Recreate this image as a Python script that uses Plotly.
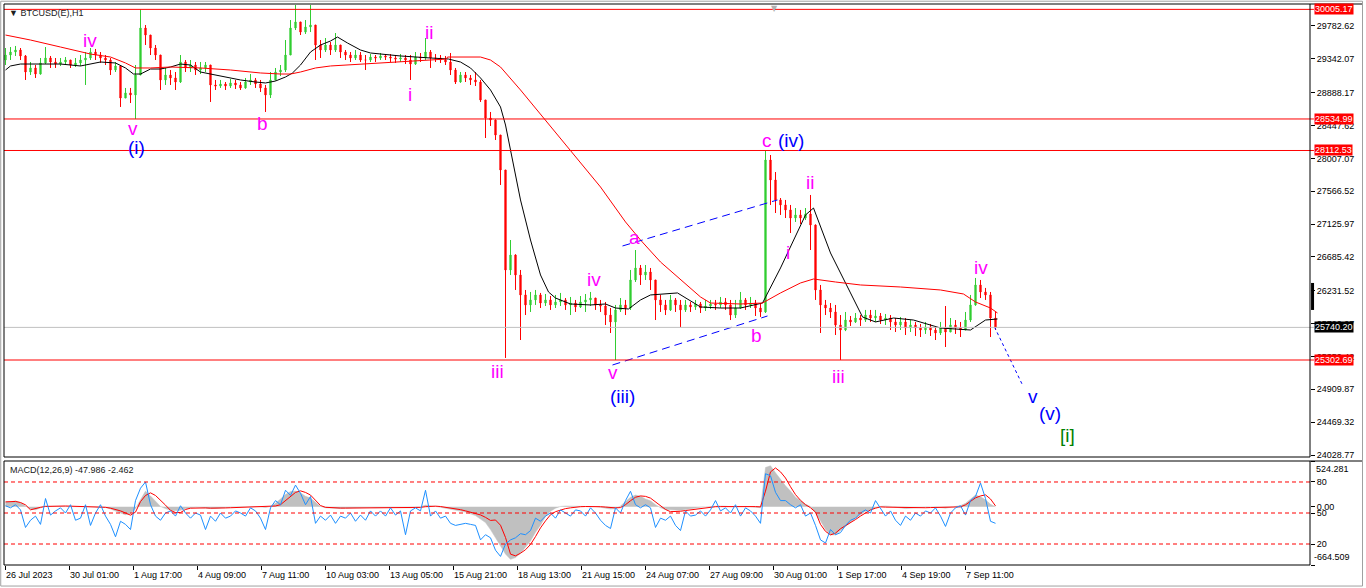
import plotly.graph_objects as go

# ---------------- DATA ----------------
# hourly bar index (sampled every 5 bars)
bar_step = 5
n_bars = 199
hours = [i * bar_step for i in range(n_bars)]
first_open = 29326

close = [
    29393, 29433, 29460, 29380, 29165, 29219, 29138, 29286, 29353, 29299,
    29272, 29299, 29326, 29259, 29286, 29326, 29353, 29433, 29393, 29353,
    29326, 29192, 29246, 28816, 28884, 28857, 29125, 29755, 29661, 29487,
    29393, 29058, 29125, 29085, 29031, 29299, 29219, 29259, 29192, 29219,
    29259, 28991, 28977, 29004, 28977, 29018, 28991, 28951, 29031, 29058,
    29004, 28951, 28857, 29058, 29165, 29192, 29393, 29755, 29836, 29701,
    29769, 29795, 29527, 29460, 29527, 29460, 29527, 29433, 29393, 29353,
    29393, 29326, 29326, 29366, 29353, 29380, 29366, 29353, 29339, 29353,
    29326, 29272, 29366, 29353, 29433, 29353, 29353, 29326, 29299, 29192,
    29031, 29125, 29085, 29058, 29031, 28790, 28548, 28521, 28320, 27851,
    26510, 26711, 26443, 26175, 26041, 26108, 26175, 26067, 26108, 26041,
    26081, 26108, 26041, 26067, 26014, 26081, 26108, 26134, 26041, 26027,
    25906, 25813, 25974, 26041, 26000, 26376, 26537, 26443, 26483, 26376,
    26108, 26041, 25974, 26108, 26041, 25974, 26041, 26014, 26054, 26000,
    26027, 26054, 26041, 26081, 26041, 25906, 26000, 26108, 26041, 26067,
    26000, 25947, 27985, 27717, 27449, 27382, 27315, 27207, 27248, 27207,
    27261, 27113, 26242, 26041, 26000, 25947, 25772, 25705, 25839, 25813,
    25866, 25839, 25906, 25866, 25893, 25839, 25866, 25813, 25772, 25813,
    25732, 25772, 25732, 25705, 25745, 25705, 25665, 25732, 25678, 25772,
    25732, 25705, 25839, 26041, 26309, 26215, 26175, 25866, 25740,
]
high = [
    29487, 29500, 29514, 29487, 29393, 29299, 29259, 29353, 29500, 29380,
    29353, 29353, 29366, 29326, 29353, 29393, 29433, 29487, 29474, 29433,
    29393, 29353, 29299, 29259, 28951, 28951, 29259, 30005, 29795, 29661,
    29527, 29393, 29219, 29192, 29165, 29393, 29326, 29326, 29299, 29299,
    29299, 29259, 29058, 29058, 29031, 29071, 29058, 29031, 29085, 29138,
    29085, 29058, 28991, 29165, 29219, 29259, 29594, 29862, 30064, 29836,
    29862, 30064, 29795, 29594, 29621, 29567, 29688, 29527, 29460, 29433,
    29460, 29433, 29393, 29406, 29393, 29420, 29406, 29406, 29393, 29406,
    29393, 29393, 29433, 29420, 29621, 29460, 29406, 29393, 29380, 29420,
    29219, 29165, 29165, 29125, 29165, 29058, 28790, 28629, 28530, 28320,
    27851, 26912, 26720, 26510, 26242, 26215, 26242, 26202, 26188, 26161,
    26175, 26202, 26134, 26148, 26108, 26161, 26188, 26215, 26134, 26108,
    26081, 26000, 26041, 26134, 26108, 26510, 26778, 26577, 26577, 26537,
    26376, 26175, 26108, 26175, 26134, 26108, 26108, 26081, 26108, 26081,
    26108, 26108, 26108, 26148, 26134, 26108, 26108, 26215, 26134, 26148,
    26108, 26067, 28112, 28052, 27824, 27475, 27449, 27382, 27341, 27315,
    27341, 27516, 27120, 26309, 26108, 26067, 26041, 25906, 25947, 25893,
    25933, 25906, 25974, 25974, 25974, 25933, 25920, 25906, 25866, 25880,
    25866, 25839, 25813, 25786, 25813, 25786, 25759, 25813, 26027, 25866,
    25839, 25813, 25947, 26175, 26403, 26376, 26269, 26215, 25947,
]
low = [
    29259, 29326, 29380, 29326, 29058, 29125, 29085, 29130, 29272, 29219,
    29219, 29246, 29259, 29219, 29232, 29246, 28991, 29326, 29326, 29286,
    29259, 29125, 29165, 28696, 28816, 28749, 28535, 29125, 29527, 29393,
    29326, 28924, 28991, 28991, 28924, 29018, 29165, 29165, 29125, 29138,
    29165, 28763, 28924, 28951, 28924, 28951, 28937, 28924, 28940, 28991,
    28951, 28897, 28629, 28816, 29050, 29111, 29165, 29393, 29728, 29661,
    29675, 29701, 29326, 29353, 29433, 29393, 29433, 29353, 29326, 29299,
    29326, 29299, 29192, 29299, 29299, 29326, 29326, 29299, 29286, 29299,
    29272, 29058, 29259, 29299, 29326, 29219, 29299, 29286, 29259, 29125,
    29004, 29020, 29031, 28991, 28977, 28763, 28280, 28441, 28253, 27650,
    25330, 26443, 26242, 25571, 25906, 25947, 26041, 26000, 26027, 25974,
    26000, 26027, 25974, 25906, 25947, 26000, 25947, 26027, 25974, 25947,
    25772, 25665, 25303, 25947, 25906, 25974, 26349, 26309, 26376, 26242,
    25839, 25947, 25906, 25960, 25947, 25745, 25947, 25947, 25974, 25933,
    25960, 25987, 25974, 26000, 25974, 25839, 25866, 25990, 25974, 26000,
    25893, 25880, 25933, 27382, 27274, 27248, 27207, 27006, 27154, 27127,
    27180, 26778, 26108, 25665, 25906, 25866, 25638, 25303, 25690, 25759,
    25799, 25759, 25813, 25813, 25813, 25786, 25772, 25705, 25678, 25705,
    25638, 25678, 25625, 25611, 25652, 25625, 25571, 25638, 25477, 25678,
    25652, 25611, 25705, 25813, 26030, 26134, 26108, 25611, 25705,
]

# moving averages (hour, price)
ma_fast_h = [0, 5, 15, 35, 55, 75, 95, 110, 120, 128, 135, 145, 155, 165, 175, 185, 195, 205,
             215, 225, 235, 250, 260, 270, 280, 287, 295, 305, 315, 325, 332, 342, 355, 365,
             395, 425, 443, 455, 465, 475, 485, 495, 500, 505, 515, 525, 535, 543, 550, 565,
             585, 600, 610, 623, 635, 645, 672, 695, 715, 735, 757, 775, 800, 808, 825, 845,
             857, 870, 888, 908, 935, 965, 980, 992]
ma_fast_p = [29192, 29246, 29272, 29272, 29272, 29246, 29299, 29286, 29219, 29138, 29138, 29205,
             29205, 29232, 29272, 29259, 29165, 29138, 29111, 29085, 29058, 29031, 29018, 29044,
             29098, 29152, 29259, 29433, 29527, 29581, 29634, 29554, 29460, 29420, 29380, 29353,
             29339, 29299, 29219, 29085, 28924, 28696, 28454, 28119, 27449, 26912, 26443, 26215,
             26134, 26054, 26041, 26054, 26000, 25987, 26108, 26175, 26202, 26014, 26000, 26000,
             26067, 26537, 27248, 27341, 26738, 26202, 25880, 25813, 25866, 25839, 25732, 25705,
             25839, 25853]
ma_slow_h = [0, 25, 55, 85, 105, 120, 130, 145, 165, 195, 225, 255, 275, 285, 295, 310, 325,
             355, 395, 435, 441, 442, 475, 485, 495, 515, 540, 565, 595, 620, 635, 655, 675,
             695, 705, 735, 757, 775, 795, 808, 830, 855, 895, 935, 958, 970, 985, 992]
ma_slow_p = [29661, 29594, 29500, 29406, 29366, 29286, 29219, 29219, 29232, 29219, 29192, 29152,
             29138, 29138, 29165, 29219, 29246, 29272, 29299, 29339, 29339, 29366, 29366, 29326,
             29232, 28924, 28521, 28119, 27623, 27154, 26912, 26617, 26376, 26148, 26067, 26054,
             26067, 26202, 26336, 26389, 26349, 26309, 26282, 26242, 26188, 26081, 26000, 25933]

# price levels
level_red = [30005.17, 28534.99, 28112.53, 25302.69]
level_current = 25740.20
price_ticks = [29782.62, 29342.07, 28888.17, 28447.62, 28007.07, 27566.52, 27125.97,
               26685.42, 26231.52, 25790.97, 25350.42, 24909.87, 24469.32, 24028.77]

# trend / projection lines (hour, price)
chan_up_h, chan_up_p = [617, 772], [26832, 27449]
chan_lo_h, chan_lo_p = [607, 762], [25236, 25893]
proj_h, proj_p = [989, 1017], [25745, 24968]

# wave labels
wave_text = ["iv", "v", "(i)", "b", "i", "ii", "iii", "iv", "v", "(iii)", "a", "b", "c",
             "(iv)", "i", "ii", "iii", "iv", "v", "(v)", "[i]"]
wave_h = [84, 127, 131, 257, 404, 423, 492, 588, 607, 617, 629, 751, 761,
          785, 782, 804, 833, 975, 1027, 1044, 1062]
wave_p = [29594, 28414, 28159, 28481, 28857, 29701, 25142, 26376, 25129, 24807, 26952, 25638, 28253,
          28240, 26738, 27677, 25075, 26550, 24807, 24592, 24297]
wave_col = ["m", "m", "b", "m", "m", "m", "m", "m", "m", "b", "m", "m", "m",
            "b", "m", "m", "m", "m", "b", "b", "g"]

# time axis labels (every 64 bars)
time_labels = ["26 Jul 2023", "30 Jul 01:00", "1 Aug 17:00", "4 Aug 09:00", "7 Aug 11:00",
               "10 Aug 03:00", "13 Aug 05:00", "15 Aug 21:00", "18 Aug 13:00", "21 Aug 15:00",
               "24 Aug 07:00", "27 Aug 09:00", "30 Aug 01:00", "1 Sep 17:00", "4 Sep 19:00",
               "7 Sep 11:00"]
label_every = 64

# MACD histogram, signal, and blue oscillator (same sampling as candles)
macd_hist = [
    57, 57, 69, 46, 11, -23, -34, -11, 11, 6,
    8, 5, 3, 0, -3, 2, 5, 0, -5, -2,
    -8, -23, -50, -70, -90, -80, -20, 80, 180, 125,
    60, 5, -20, -40, -45, -40, -20, -10, -5, -8,
    -15, -20, -18, -12, -8, -5, -3, 0, 2, 5,
    3, 0, -8, 5, 40, 90, 140, 175, 180, 160,
    120, 100, 50, 5, -10, -15, -18, -20, -15, -12,
    -15, -12, -10, -8, -10, -8, -5, -5, -8, -10,
    -15, -12, -5, 0, 20, 15, 5, -5, -15, -25,
    -40, -50, -60, -80, -100, -140, -180, -260, -350, -440,
    -540, -600, -580, -530, -460, -390, -290, -210, -110, -50,
    -15, 5, 10, 10, 8, 5, 8, 5, 2, -5,
    -15, -25, -20, 10, 60, 110, 135, 120, 90, 70,
    25, -10, -30, -35, -35, -40, -30, -20, -10, -5,
    0, 5, 8, 10, 8, 2, 5, 8, 5, 2,
    -5, -10, 450, 470, 390, 310, 240, 180, 110, 70,
    30, 5, -70, -160, -260, -320, -320, -270, -220, -180,
    -130, -90, -50, -35, -10, 5, 10, 5, -5, -15,
    -20, -15, -10, -8, -5, 0, -2, -5, -15, -5,
    5, 15, 40, 90, 135, 115, 80, 30, 0,
]
macd_signal = [
    57, 60, 62, 50, 23, -34, -15, -5, 5, 8,
    10, 10, 10, 8, 6, 5, 5, 4, 2, 0,
    -5, -15, -30, -46, -70, -95, -60, 60, 130, 160,
    130, 80, 20, -40, -65, -65, -30, -15, -12, -12,
    -12, -15, -16, -14, -12, -10, -8, -5, -3, 0,
    2, 1, -2, 0, 10, 25, 70, 125, 165, 183,
    165, 135, 75, 15, -5, -10, -12, -14, -14, -14,
    -14, -13, -12, -11, -10, -10, -9, -8, -8, -9,
    -10, -11, -10, -6, 2, 8, 8, 4, -3, -12,
    -22, -32, -46, -60, -80, -92, -120, -155, -150, -210,
    -350, -540, -560, -530, -490, -430, -340, -240, -160, -90,
    -55, -34, -20, -11, -2, 2, 4, 5, 4, 2,
    -2, -8, -12, -8, 25, 70, 110, 125, 120, 100,
    60, 10, -30, -55, -55, -50, -42, -34, -25, -15,
    -8, 0, 2, 3, 4, 5, 5, 5, 5, 4,
    3, 0, 180, 400, 445, 400, 330, 230, 140, 75,
    25, -10, -60, -200, -280, -320, -300, -250, -215, -185,
    -145, -105, -70, -35, -15, 0, -3, -5, -5, -8,
    -10, -12, -12, -11, -10, -8, -6, -5, -7, -8,
    -5, 0, 23, 60, 103, 125, 137, 90, 11,
]
osc = [
    57, 55, 58, 53, 36, 43, 47, 39, 64, 48,
    52, 55, 50, 58, 43, 45, 58, 38, 50, 58,
    47, 39, 27, 42, 39, 34, 62, 74, 80, 58,
    47, 43, 50, 52, 47, 57, 50, 45, 50, 48,
    34, 47, 42, 50, 45, 47, 52, 50, 47, 55,
    52, 45, 34, 55, 62, 58, 72, 67, 77, 69,
    58, 66, 40, 47, 43, 48, 40, 47, 45, 50,
    42, 48, 43, 52, 47, 52, 47, 55, 48, 52,
    29, 52, 55, 52, 72, 47, 52, 45, 47, 40,
    38, 39, 40, 39, 38, 24, 29, 26, 14, 8,
    20, 24, 26, 30, 29, 33, 45, 42, 47, 50,
    45, 53, 50, 47, 53, 52, 47, 55, 50, 43,
    38, 35, 55, 50, 62, 71, 58, 55, 58, 55,
    36, 45, 43, 47, 38, 33, 52, 47, 48, 52,
    47, 53, 62, 52, 55, 50, 58, 47, 55, 52,
    47, 40, 88, 86, 70, 62, 62, 58, 55, 58,
    47, 50, 38, 24, 21, 34, 29, 31, 38, 43,
    45, 50, 53, 50, 62, 55, 47, 52, 43, 38,
    47, 43, 50, 47, 52, 50, 55, 47, 37, 50,
    55, 57, 48, 62, 66, 79, 64, 42, 40,
]
osc_levels = [80, 50, 20]
macd_max, macd_min = 524.281, -664.509
title_main = "▼ BTCUSD(E),H1"
title_macd = "MACD(12,26,9) -47.986 -2.462"

# ---------------- FIGURE ----------------
opens = [first_open] + close[:-1]
FONT = "Liberation Sans, Arial, sans-serif"
GREEN, RED = "#32CD32", "#FF0000"
MAG, BLUE, DKGREEN = "#FF00FF", "#0000FF", "#008000"

fig = go.Figure()
fig.add_trace(go.Candlestick(
    x=hours, open=opens, high=high, low=low, close=close,
    increasing=dict(line=dict(color=GREEN, width=1), fillcolor=GREEN),
    decreasing=dict(line=dict(color=RED, width=1), fillcolor=RED),
    whiskerwidth=0, xaxis="x", yaxis="y", hoverinfo="skip", showlegend=False))
fig.add_trace(go.Scatter(x=ma_fast_h, y=ma_fast_p, mode="lines",
                         line=dict(color="black", width=1), yaxis="y", hoverinfo="skip"))
fig.add_trace(go.Scatter(x=ma_slow_h, y=ma_slow_p, mode="lines",
                         line=dict(color=RED, width=1), yaxis="y", hoverinfo="skip"))
for hx, py, dash in [(chan_up_h, chan_up_p, "8px,5px"), (chan_lo_h, chan_lo_p, "8px,5px"),
                     (proj_h, proj_p, "3px,3px")]:
    fig.add_trace(go.Scatter(x=hx, y=py, mode="lines",
                             line=dict(color=BLUE, width=1, dash=dash), yaxis="y", hoverinfo="skip"))

fig.add_trace(go.Scatter(x=hours, y=macd_hist, mode="lines", fill="tozeroy",
                         fillcolor="#C0C0C0", line=dict(color="#C0C0C0", width=0.5),
                         yaxis="y2", hoverinfo="skip"))
fig.add_trace(go.Scatter(x=hours, y=macd_signal, mode="lines",
                         line=dict(color=RED, width=1), yaxis="y2", hoverinfo="skip"))
fig.add_trace(go.Scatter(x=hours, y=osc, mode="lines",
                         line=dict(color="#1E90FF", width=1), yaxis="y3", hoverinfo="skip"))

W, H = 1366, 588
ML, MR, MT, MB = 4, 56, 4, 23
ph = H - MT - MB
pw = W - ML - MR
main_bottom_px, lower_top_px = 457, 461
main_dom = [(H - MB - main_bottom_px) / ph, 1]
low_dom = [0, (H - MB - lower_top_px) / ph]
scale_right = 1 + (1362 - (W - MR)) / pw

shapes = []
for lv in level_red:
    shapes.append(dict(type="line", xref="paper", x0=0, x1=1.003, yref="y", y0=lv, y1=lv,
                       line=dict(color=RED, width=1)))
shapes.append(dict(type="line", xref="paper", x0=0, x1=1.003, yref="y",
                   y0=level_current, y1=level_current, line=dict(color="#C0C0C0", width=1)))
for lv in osc_levels:
    shapes.append(dict(type="line", xref="paper", x0=0, x1=1, yref="y3", y0=lv, y1=lv,
                       line=dict(color=RED, width=1, dash="4px,3px")))
for d in (main_dom, low_dom):
    shapes.append(dict(type="rect", xref="paper", yref="paper", x0=0, x1=1, y0=d[0], y1=d[1],
                       line=dict(color="black", width=1), fillcolor="rgba(0,0,0,0)"))
    shapes.append(dict(type="line", xref="paper", yref="paper", x0=1, x1=scale_right,
                       y0=d[1], y1=d[1], line=dict(color="black", width=1)))
shapes.append(dict(type="rect", xref="paper", yref="y", x0=1.0008, x1=1.0031,
                   y0=25974, y1=26336, fillcolor="black", line=dict(width=0)))
# outer window border
shapes.append(dict(type="rect", xref="paper", yref="paper", x0=-0.0025, x1=1.0402,
                   y0=-0.0375, y1=1.005, line=dict(color="#A0A0A0", width=1),
                   fillcolor="rgba(0,0,0,0)"))

ann = []
colmap = {"m": MAG, "b": BLUE, "g": DKGREEN}
for t, hx, py, c in zip(wave_text, wave_h, wave_p, wave_col):
    ann.append(dict(x=hx, y=py, xref="x", yref="y", text=t, showarrow=False,
                    font=dict(family=FONT, size=19, color=colmap[c])))
for lv in level_red:
    ann.append(dict(x=1, y=lv, xref="paper", yref="y", text=f"{lv:.2f}", showarrow=False,
                    xanchor="left", xshift=4, bgcolor=RED, borderpad=0,
                    font=dict(family=FONT, size=9, color="white")))
ann.append(dict(x=1, y=level_current, xref="paper", yref="y", text=f"{level_current:.2f}",
                showarrow=False, xanchor="left", xshift=4, bgcolor="black", borderpad=0,
                font=dict(family=FONT, size=9, color="white")))
for k, lab in enumerate(time_labels):
    ann.append(dict(x=k * label_every, y=0, xref="x", yref="paper", text=lab, showarrow=False,
                    xanchor="left", yanchor="top", xshift=-2, yshift=-3,
                    font=dict(family=FONT, size=9, color="black")))
ann.append(dict(x=0, y=1, xref="paper", yref="paper", text=title_main, showarrow=False,
                xanchor="left", yanchor="top", xshift=3, yshift=-2,
                font=dict(family=FONT, size=9, color="#202020")))
ann.append(dict(x=0, y=low_dom[1], xref="paper", yref="paper", text=title_macd, showarrow=False,
                xanchor="left", yanchor="top", xshift=4, yshift=-2,
                font=dict(family=FONT, size=9, color="#202020")))
ann.append(dict(x=1, y=macd_max, xref="paper", yref="y2", text=f"{macd_max:.3f}", showarrow=False,
                xanchor="left", yanchor="top", xshift=4, yshift=-1,
                font=dict(family=FONT, size=9, color="black")))
ann.append(dict(x=1, y=macd_min, xref="paper", yref="y2", text=f"{macd_min:.3f}", showarrow=False,
                xanchor="left", yanchor="bottom", xshift=2, yshift=1,
                font=dict(family=FONT, size=9, color="black")))
ann.append(dict(x=769, y=1, xref="x", yref="paper", text="▼", showarrow=False,
                yanchor="top", yshift=2, font=dict(family="DejaVu Sans", size=8, color="#B0B0B0")))

axfont = dict(family=FONT, size=9, color="black")
fig.update_layout(
    width=W, height=H, margin=dict(l=ML, r=MR, t=MT, b=MB),
    paper_bgcolor="white", plot_bgcolor="white", showlegend=False,
    boxgap=0.65,
    shapes=shapes, annotations=ann,
    xaxis=dict(domain=[0, 1], range=[-1.5, 1304.5], anchor="y2",
               tickvals=[k * label_every for k in range(len(time_labels))],
               ticks="outside", ticklen=4, tickcolor="black", showticklabels=False,
               showgrid=False, zeroline=False, showline=False, rangeslider=dict(visible=False),
               fixedrange=True),
    yaxis=dict(domain=main_dom, range=[24002, 30077], side="right", anchor="x",
               tickvals=price_ticks, ticktext=[f"{v:.2f}" for v in price_ticks],
               ticks="outside", ticklen=4, tickcolor="black", tickfont=axfont,
               showgrid=False, zeroline=False, showline=False, fixedrange=True),
    yaxis2=dict(domain=low_dom, range=[macd_min, macd_max], side="right", anchor="x",
                tickvals=[0, macd_max, macd_min], ticktext=["0.00", "", ""],
                ticks="outside", ticklen=4, tickcolor="black", tickfont=axfont,
                showgrid=False, zeroline=False, showline=False, fixedrange=True),
    yaxis3=dict(overlaying="y2", range=[-0.3, 100.3], side="right", anchor="x",
                tickvals=osc_levels, ticktext=[str(v) for v in osc_levels],
                ticks="outside", ticklen=4, tickcolor="black", tickfont=axfont,
                showgrid=False, zeroline=False, showline=False, fixedrange=True),
)
fig.write_html("out.html", config={"displayModeBar": False, "staticPlot": True},
               post_script="document.body.style.margin='0';document.body.style.overflow='hidden';")
